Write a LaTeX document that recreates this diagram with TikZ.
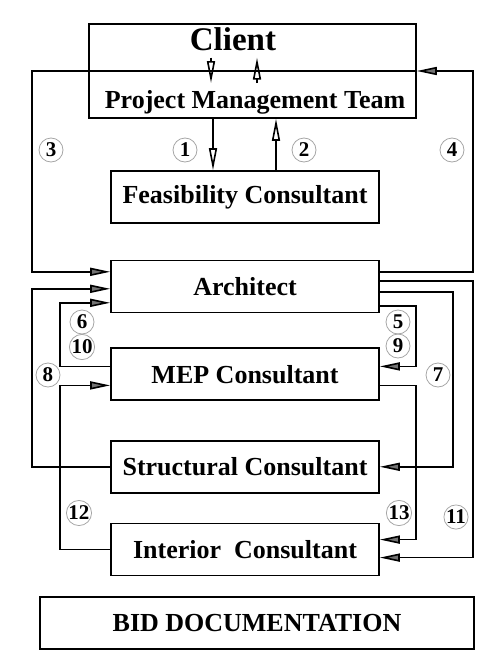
\documentclass[tikz,border=0pt]{standalone}
\usepackage{fontspec}
\setmainfont{Liberation Serif}
\usetikzlibrary{positioning, arrows.meta, calc}

\begin{document}
\begin{tikzpicture}[
    x=0.5pt, y=-0.5pt,
    box/.style={rectangle, draw, line width=0.8pt,
                minimum width=134pt, minimum height=26pt, inner sep=0pt,
                align=center, font=\fontsize{13}{15}\selectfont\bfseries},
    num/.style={circle, draw=black!35, line width=0.4pt, minimum size=12pt,
                inner sep=0pt, font=\fontsize{10.5}{11}\selectfont\bfseries},
    arrow/.style={-{Triangle[length=10pt, width=4pt, fill=black!55]}, line width=0.8pt},
    openarrow/.style={-{Triangle[open, length=11pt, width=4pt]}, line width=0.8pt}
]
  \useasboundingbox (0,0) rectangle (486,653);

  % client and project management team
  \node[box, minimum width=163.5pt, minimum height=47pt] (top) at (252.5,71) {};
  \node[font=\fontsize{16.5}{18}\selectfont\bfseries] (client) at (233,39) {Client};
  \node[font=\fontsize{13}{15}\selectfont\bfseries] (pmt) at (255,102) {Project Management Team};

  % consultants column
  \node[box] (feas) at (245,197) {Feasibility Consultant};
  \node[box, below=18pt of feas] (arch) {Architect};
  \node[box, below=17pt of arch] (mep) {MEP Consultant};
  \node[box, below=19.5pt of mep] (struct) {Structural Consultant};
  \node[box, below=14.5pt of struct] (int) {Interior\ \ Consultant};
  \node[box, minimum width=217pt, minimum height=26pt] (bid) at (257,623) {BID DOCUMENTATION};

  % rails and ports
  \coordinate (farL) at (32,0);
  \coordinate (nearL) at (60,0);
  \coordinate (nearR) at (416,0);
  \coordinate (midR) at (453,0);
  \coordinate (farR) at (473,0);
  \coordinate (arch-w1) at ([yshift=-6pt]arch.north west);
  \coordinate (arch-w2) at ([yshift=-14.5pt]arch.north west);
  \coordinate (arch-w3) at ([yshift=-21.5pt]arch.north west);
  \coordinate (arch-e1) at ([yshift=-6pt]arch.north east);
  \coordinate (arch-e2) at ([yshift=-10.5pt]arch.north east);
  \coordinate (arch-e3) at ([yshift=-16pt]arch.north east);
  \coordinate (arch-e4) at ([yshift=-23pt]arch.north east);
  \coordinate (mep-w1) at ([yshift=-9.5pt]mep.north west);
  \coordinate (mep-w2) at ([yshift=-19pt]mep.north west);
  \coordinate (mep-e1) at ([yshift=-9.5pt]mep.north east);
  \coordinate (mep-e2) at ([yshift=-19pt]mep.north east);
  \coordinate (int-e1) at ([yshift=-8.5pt]int.north east);
  \coordinate (int-e2) at ([yshift=-17.5pt]int.north east);

  \draw[line width=0.8pt] (top.west) -- (top.east);
  \draw[openarrow] ([xshift=-11pt]client.south) -- ([xshift=-11pt]client.south |- pmt.north);
  \draw[openarrow] ([xshift=12pt]client.south |- pmt.north) -- ([xshift=12pt]client.south);
  \draw[openarrow] ([xshift=-16pt]feas.north |- top.south) -- ([xshift=-16pt]feas.north);
  \draw[openarrow] ([xshift=15.5pt]feas.north) -- ([xshift=15.5pt]feas.north |- top.south);

  \draw[arrow] (top.west) -| (farL |- arch-w1) -- (arch-w1);
  \draw[arrow] (arch-e1) -| (farR |- top.east) -- (top.east);
  \draw[arrow] (struct.west) -| (farL |- arch-w2) -- (arch-w2);
  \draw[arrow] (mep-w1) -| (nearL |- arch-w3) -- (arch-w3);
  \draw[arrow] (int.west) -| (nearL |- mep-w2) -- (mep-w2);
  \draw[arrow] (arch-e2) -| (farR |- int-e2) -- (int-e2);
  \draw[arrow] (arch-e3) -| (midR |- struct.east) -- (struct.east);
  \draw[arrow] (arch-e4) -| (nearR |- mep-e1) -- (mep-e1);
  \draw[arrow] (mep-e2) -| (nearR |- int-e1) -- (int-e1);

  % step numbers
  \node[num] (n1) at (185,150) {1};
  \node[num] (n2) at (304,150) {2};
  \node[num] (n3) at (51,150) {3};
  \node[num] (n4) at (452,150) {4};
  \node[num] (n5) at (398,322) {5};
  \node[num] (n6) at (82,322) {6};
  \node[num] (n7) at (438,375) {7};
  \node[num] (n8) at (48,375) {8};
  \node[num] (n9) at (398,346) {9};
  \node[num] (n10) at (82,347) {10};
  \node[num] (n11) at (456,517) {11};
  \node[num] (n12) at (79,513) {12};
  \node[num] (n13) at (399,513) {13};
\end{tikzpicture}
\end{document}
